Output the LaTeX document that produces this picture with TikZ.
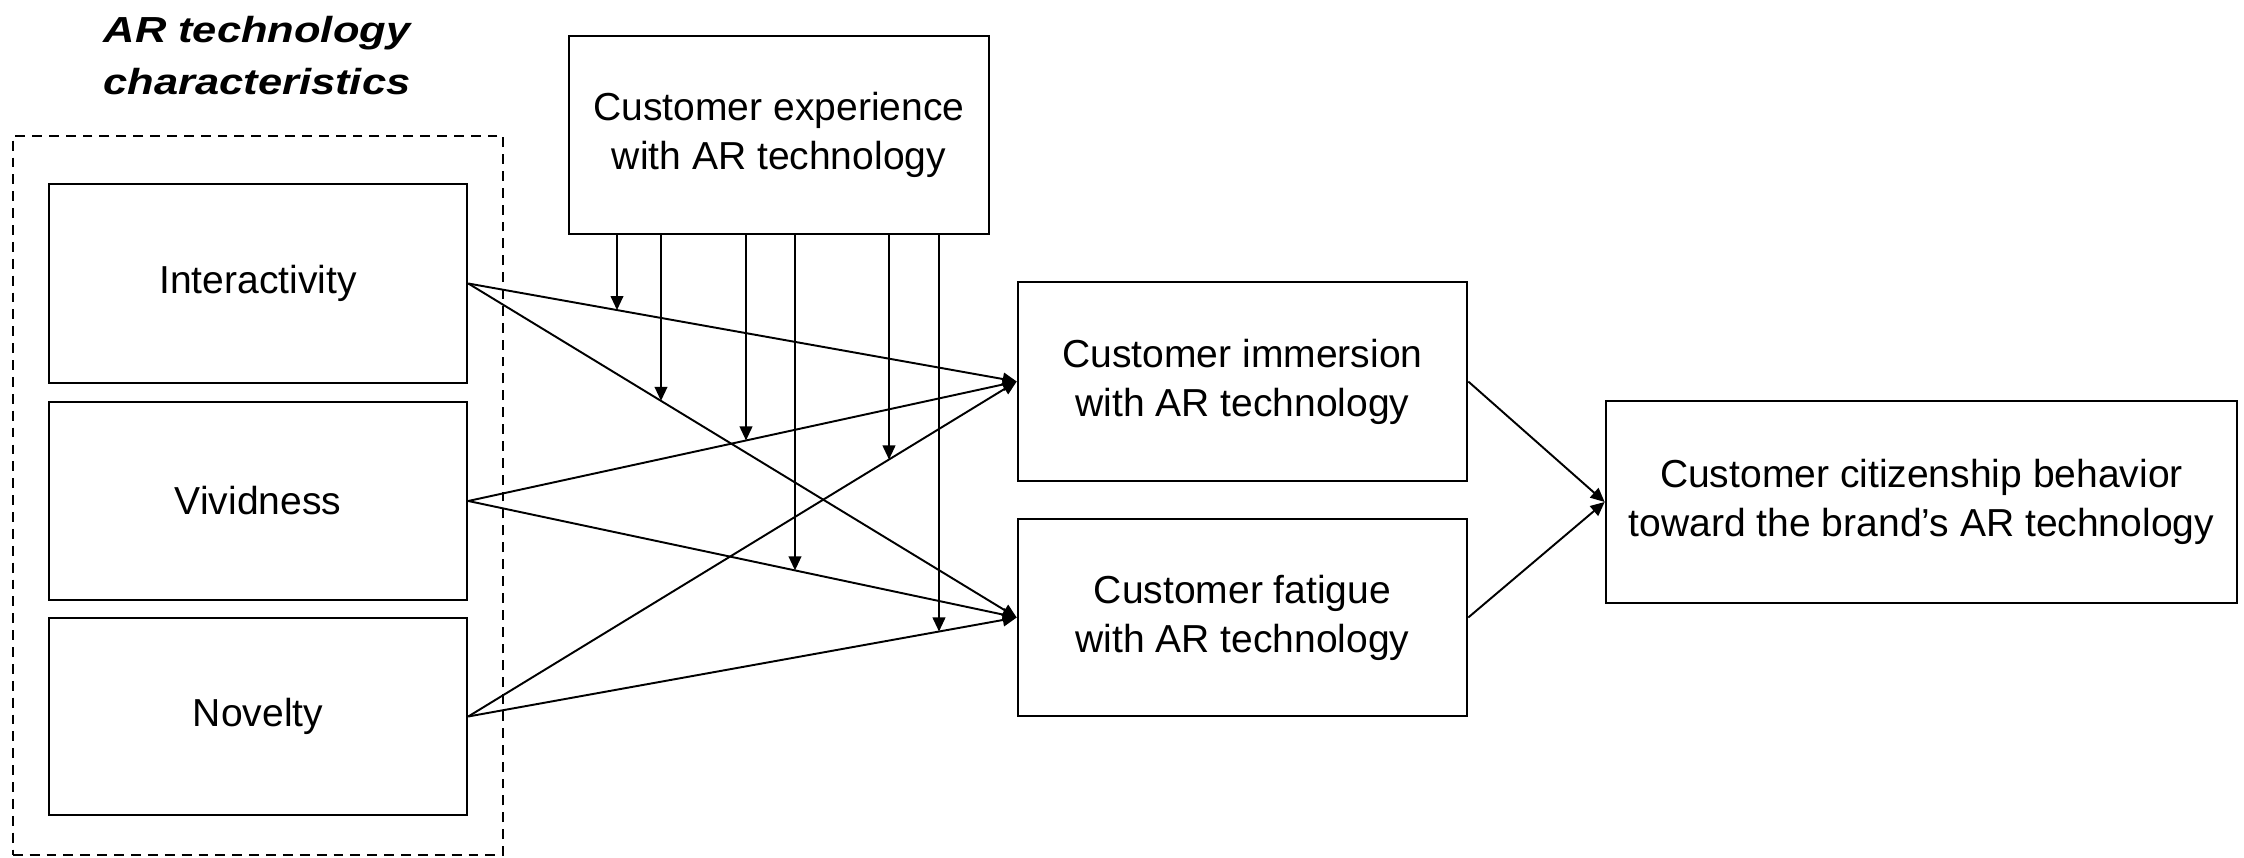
\documentclass[tikz,border=0pt]{standalone}
\usepackage{fontspec}
\setmainfont{Liberation Sans}
\newfontfamily\titlefont[FakeStretch=1.2]{Liberation Sans}
\usetikzlibrary{arrows.meta,intersections}

\begin{document}
\begin{tikzpicture}[x=0.01cm, y=-0.01cm,
  box/.style={draw, line width=0.65pt, inner sep=0pt, align=center,
    font=\fontsize{11.1pt}{13.9pt}\selectfont},
  frame/.style={draw, line width=0.5pt, dash pattern=on 2.8pt off 2pt, inner sep=0pt},
  link/.style={line width=0.55pt, -{Triangle[width=3.6pt,length=4pt]}},
  heading/.style={align=center, inner sep=0pt,
    font=\titlefont\bfseries\itshape\fontsize{10.3pt}{14.8pt}\selectfont}]
\useasboundingbox (0,0) rectangle (2244,858);

% title of the grouped characteristics (base = baseline of its last line)
\node[heading, anchor=base] (title) at (257,95) {AR technology\\characteristics};

% dashed frame around the three characteristics
\node[frame, minimum width=4.90cm, minimum height=7.19cm] (group) at (258,495.5) {};

% characteristics
\node[box, minimum width=4.18cm, minimum height=1.99cm] (int) at (258,283.5) {Interactivity};
\node[box, minimum width=4.18cm, minimum height=1.98cm] (viv) at (258,501) {Vividness};
\node[box, minimum width=4.18cm, minimum height=1.97cm] (nov) at (258,716.5) {Novelty};

% moderator
\node[box, minimum width=4.20cm, minimum height=1.98cm] (exp) at (779,135)
  {Customer experience\\with AR technology};

% mediators and outcome
\node[box, minimum width=4.49cm, minimum height=1.99cm] (imm) at (1242.5,381.5)
  {Customer immersion\\with AR technology};
\node[box, minimum width=4.49cm, minimum height=1.97cm] (fat) at (1242.5,617.5)
  {Customer fatigue\\with AR technology};
\node[box, minimum width=6.31cm, minimum height=2.02cm] (cit) at (1921.5,502)
  {Customer citizenship behavior\\toward the brand’s AR technology};

% direct paths
\draw[link, name path=ii] (int.east) -- (imm.west);
\draw[link, name path=if] (int.east) -- (fat.west);
\draw[link, name path=vi] (viv.east) -- (imm.west);
\draw[link, name path=vf] (viv.east) -- (fat.west);
\draw[link, name path=ni] (nov.east) -- (imm.west);
\draw[link, name path=nf] (nov.east) -- (fat.west);
\draw[link] (imm.east) -- (cit.west);
\draw[link] (fat.east) -- (cit.west);

% vertical guides for the moderating arrows
\path[name path=g1] (617,0) -- (617,858);
\path[name path=g2] (661,0) -- (661,858);
\path[name path=g3] (746,0) -- (746,858);
\path[name path=g4] (795,0) -- (795,858);
\path[name path=g5] (889,0) -- (889,858);
\path[name path=g6] (939,0) -- (939,858);
\path[name intersections={of=g1 and ii, by=m1}];
\path[name intersections={of=g2 and if, by=m2}];
\path[name intersections={of=g3 and vi, by=m3}];
\path[name intersections={of=g4 and vf, by=m4}];
\path[name intersections={of=g5 and ni, by=m5}];
\path[name intersections={of=g6 and nf, by=m6}];

% moderating arrows dropping onto each path
\draw[link] (m1 |- exp.south) -- (m1);
\draw[link] (m2 |- exp.south) -- (m2);
\draw[link] (m3 |- exp.south) -- (m3);
\draw[link] (m4 |- exp.south) -- (m4);
\draw[link] (m5 |- exp.south) -- (m5);
\draw[link] (m6 |- exp.south) -- (m6);
\end{tikzpicture}
\end{document}
